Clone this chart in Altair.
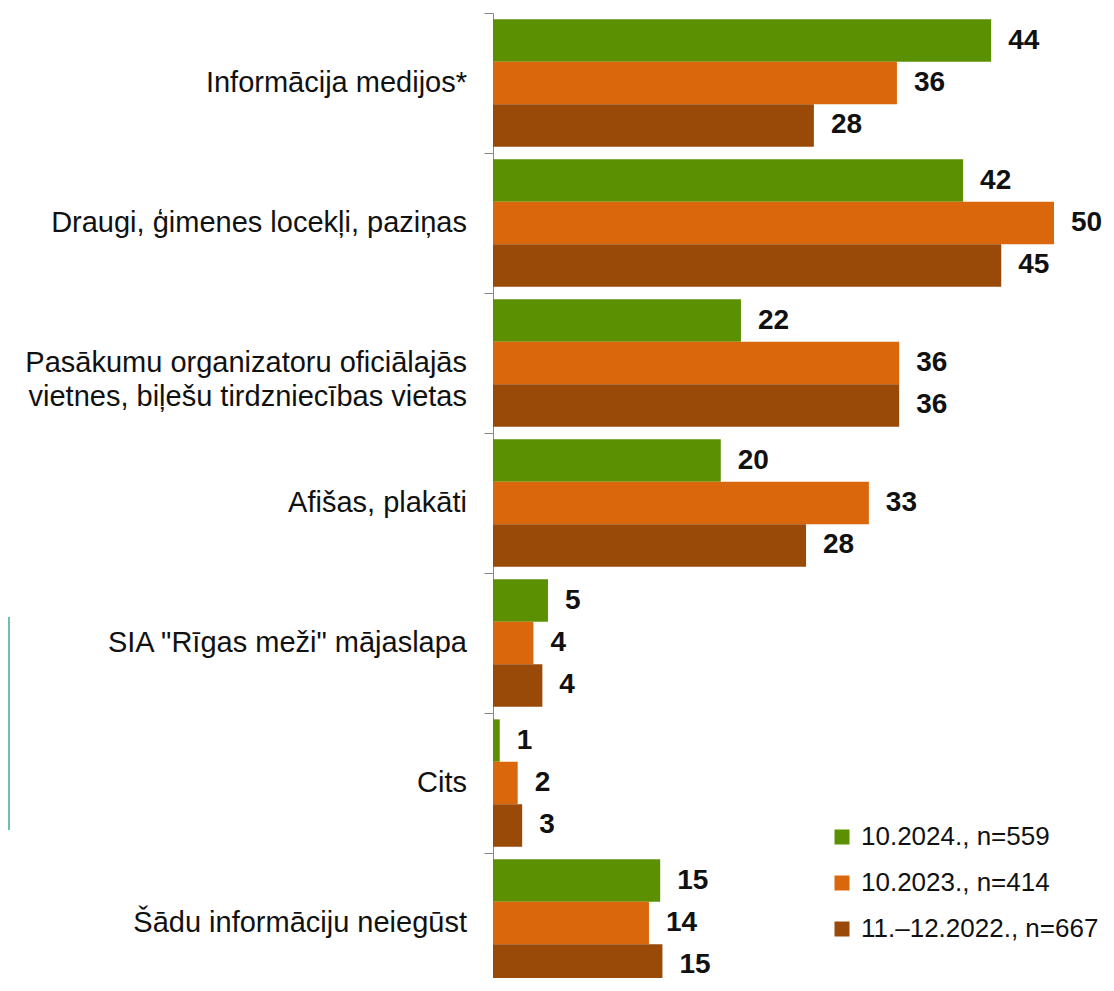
import altair as alt
import pandas as pd

categories = [
    "Informācija medijos*",
    "Draugi, ģimenes locekļi, paziņas",
    "Pasākumu organizatoru oficiālajās vietnes, biļešu tirdzniecības vietas",
    "Afišas, plakāti",
    'SIA "Rīgas meži" mājaslapa',
    "Cits",
    "Šādu informāciju neiegūst",
]
category_labels = [
    "Informācija medijos*",
    "Draugi, ģimenes locekļi, paziņas",
    "Pasākumu organizatoru oficiālajās\nvietnes, biļešu tirdzniecības vietas",
    "Afišas, plakāti\u00a0",
    'SIA "Rīgas meži" mājaslapa',
    "Cits",
    "Šādu informāciju neiegūst",
]
series = ["10.2024., n=559", "10.2023., n=414", "11.–12.2022., n=667"]
colors = ["#5C9003", "#DA670B", "#9A4A08"]

values_2024 = [44.4, 41.9, 22.1, 20.3, 4.9, 0.6, 14.9]
values_2023 = [36.0, 50.0, 36.2, 33.5, 3.6, 2.2, 13.9]
values_2022 = [28.6, 45.3, 36.2, 27.9, 4.4, 2.6, 15.1]
labels_2024 = ["44", "42", "22", "20", "5", "1", "15"]
labels_2023 = ["36", "50", "36", "33", "4", "2", "14"]
labels_2022 = ["28", "45", "36", "28", "4", "3", "15"]

rows = []
for s, vals, labs in zip(series, [values_2024, values_2023, values_2022],
                         [labels_2024, labels_2023, labels_2022]):
    for c, v, l in zip(categories, vals, labs):
        rows.append({"cat": c, "series": s, "value": v, "label": l})
df = pd.DataFrame(rows)
cat_df = pd.DataFrame({"cat": categories, "text": category_labels})

FONT = "Liberation Sans"

y_scale = alt.Scale(paddingInner=0, paddingOuter=0, range=[0, 980])
y_enc = alt.Y(
    "cat:N", sort=categories, scale=y_scale,
    axis=alt.Axis(labels=False, title=None, bandPosition=0, tickSize=9,
                  domainColor="#868686", tickColor="#868686", grid=False,
                  domainWidth=1, tickWidth=1),
)
yoff = alt.YOffset("series:N", sort=series,
                   scale=alt.Scale(paddingInner=0, paddingOuter=0.15))
x_enc = alt.X("value:Q", scale=alt.Scale(domain=[0, 50], range=[0, 561]), axis=None)

bars = alt.Chart(df).mark_bar().encode(
    y=y_enc,
    yOffset=yoff,
    x=x_enc,
    color=alt.Color(
        "series:N", sort=series,
        scale=alt.Scale(domain=series, range=colors),
        legend=alt.Legend(orient="none", legendX=336, legendY=811, title=None,
                          symbolType="square", symbolSize=225, labelFontSize=26,
                          labelFont=FONT, labelColor="#111111", rowPadding=20,
                          labelOffset=6, padding=0, symbolStrokeWidth=0,
                          labelLimit=0),
    ),
)

value_text = alt.Chart(df).mark_text(
    align="left", baseline="middle", dx=17, font=FONT, fontSize=28,
    fontWeight="bold", color="#111111",
).encode(y=y_enc, yOffset=yoff, x=x_enc, text="label:N")

cat_text = alt.Chart(cat_df).mark_text(
    align="right", baseline="middle", font=FONT, fontSize=29,
    color="#111111", lineBreak="\n", lineHeight=34,
).encode(y=alt.Y("cat:N", sort=categories), x=alt.value(-26), text="text:N")

teal = alt.Chart(pd.DataFrame({"a": [0]})).mark_rule(
    color="#6DBFB0", strokeWidth=2
).encode(x=alt.value(-484), y=alt.value(604), y2=alt.value(817))

chart = alt.layer(bars, value_text, cat_text, teal).properties(
    width=613, height=965,
    autosize=alt.AutoSizeParams(type="none"),
    padding={"left": 485, "top": 5, "right": 0, "bottom": 0},
).configure_view(stroke=None)

chart.save("out.html", embed_options={"renderer": "svg", "actions": False})
